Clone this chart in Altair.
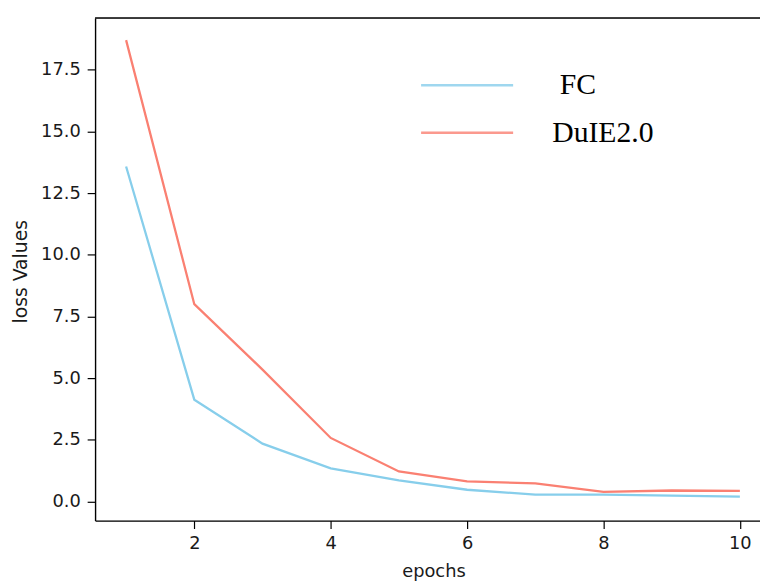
import altair as alt
import pandas as pd

epochs = [1, 2, 3, 4, 5, 6, 7, 8, 9, 10]
fc_loss = [13.58, 4.13, 2.35, 1.35, 0.86, 0.48, 0.28, 0.28, 0.24, 0.20]
duie_loss = [18.70, 8.00, 5.35, 2.58, 1.22, 0.82, 0.74, 0.39, 0.45, 0.43]
series_names = ["FC", "DuIE2.0"]
series_colors = ["#87CEEB", "#FA8072"]
y_ticks = [0.0, 2.5, 5.0, 7.5, 10.0, 12.5, 15.0, 17.5]
x_ticks = [2, 4, 6, 8, 10]

rows = []
for e, v in zip(epochs, fc_loss):
    rows.append({"epoch": e, "loss": v, "series": series_names[0]})
for e, v in zip(epochs, duie_loss):
    rows.append({"epoch": e, "loss": v, "series": series_names[1]})
df = pd.DataFrame(rows)

W, H = 672, 508

axis_common = dict(
    grid=False,
    domainColor="#000000",
    domainWidth=1.4,
    tickColor="#000000",
    tickWidth=1.2,
    tickSize=8,
    labelFont="DejaVu Sans",
    labelFontSize=18,
    labelColor="#1a1a1a",
    titleFont="DejaVu Sans",
    titleFontWeight="normal",
    titleColor="#1a1a1a",
)

lines = alt.Chart(df).mark_line(strokeWidth=2.3, clip=True).encode(
    x=alt.X(
        "epoch:Q",
        scale=alt.Scale(domain=[0.545, 10.295], nice=False, zero=False),
        axis=alt.Axis(values=x_ticks, format="d", title="epochs",
                      labelPadding=6, titleFontSize=18,
                      titleX=342, titleY=57, titleAlign="center",
                      titleBaseline="alphabetic", **axis_common),
    ),
    y=alt.Y(
        "loss:Q",
        scale=alt.Scale(domain=[-0.77, 19.6], nice=False, zero=False),
        axis=alt.Axis(values=y_ticks, format=".1f", title="loss Values",
                      labelPadding=7, titleFontSize=19,
                      titleX=-69, titleY=256, titleAngle=270,
                      titleAlign="center", titleBaseline="alphabetic",
                      **axis_common),
    ),
    color=alt.Color(
        "series:N",
        scale=alt.Scale(domain=series_names, range=series_colors),
        legend=alt.Legend(
            title=None,
            orient="none",
            legendX=328,
            legendY=45,
            symbolType="stroke",
            symbolSize=8649,
            symbolStrokeWidth=2.5,
            symbolOpacity=0.8,
            clipHeight=46,
            rowPadding=2,
            labelOffset=38,
            labelFont="Liberation Serif",
            labelFontSize=30,
            labelColor="#000000",
            labelLimit=300,
            labelExpr="datum.label == 'FC' ? '\u200b\u00a0FC' : datum.label",
        ),
    ),
)

frame_top = alt.Chart(pd.DataFrame({"k": [0]})).mark_rule(
    color="#000000", strokeWidth=1.4
).encode(x=alt.value(0), x2=alt.value(W), y=alt.value(0))

chart = alt.layer(lines, frame_top).properties(
    width=W,
    height=H,
    autosize=alt.AutoSizeParams(type="none"),
    padding={"left": 88, "top": 7, "right": 0, "bottom": 58},
).configure_view(stroke=None).configure(background="white")

chart.save("out.html", embed_options={"renderer": "svg", "actions": False})
